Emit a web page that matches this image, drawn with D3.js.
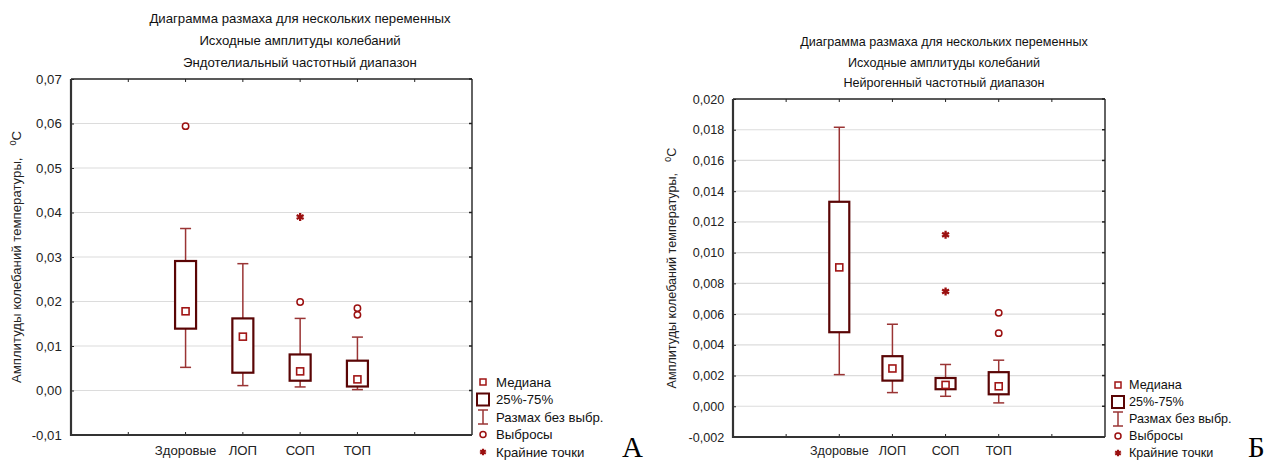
<!DOCTYPE html>
<html>
<head>
<meta charset="utf-8">
<script src="https://cdn.jsdelivr.net/npm/d3@7"></script>
<style>
  body { margin: 0; background: #fff; }
  svg { font-family: "Liberation Sans", Arial, sans-serif; }
</style>
</head>
<body>
<svg id="chart" width="1266" height="465"></svg>
<script>
// categories (same for both panels)
const groups = ['Здоровые', 'ЛОП', 'СОП', 'ТОП']

// panel A - endothelial range: [whiskerLow, q1, median, q3, whiskerHigh]
const statsA = [
  [0.0052, 0.0139, 0.0178, 0.0291, 0.0364],
  [0.0011, 0.0040, 0.0121, 0.0162, 0.0285],
  [0.0008, 0.0022, 0.0043, 0.0081, 0.0162],
  [0.0002, 0.0009, 0.0025, 0.0067, 0.0120]
]
const outliersA = [[0.0594], [], [0.0199], [0.0185, 0.0170]]
const extremesA = [[], [], [0.0390], []]
const ticksA = [-0.01, 0, 0.01, 0.02, 0.03, 0.04, 0.05, 0.06, 0.07]

// panel B - neurogenic range
const statsB = [
  [0.00206, 0.00482, 0.00904, 0.01331, 0.01816],
  [0.00089, 0.00167, 0.00246, 0.00326, 0.00534],
  [0.00065, 0.00111, 0.00139, 0.00184, 0.00272],
  [0.00022, 0.00078, 0.00130, 0.00222, 0.00300]
]
const outliersB = [[], [], [], [0.00608, 0.00476]]
const extremesB = [[], [], [0.01116, 0.00747], []]
const ticksB = [-0.002, 0, 0.002, 0.004, 0.006, 0.008, 0.010, 0.012, 0.014, 0.016, 0.018, 0.020]

const titleA = ['Диаграмма размаха для нескольких переменных', 'Исходные амплитуды колебаний', 'Эндотелиальный частотный диапазон']
const titleB = ['Диаграмма размаха для нескольких переменных', 'Исходные амплитуды колебаний', 'Нейрогенный частотный диапазон']
const legendLabels = ['Медиана', '25%-75%', 'Размах без выбр.', 'Выбросы', 'Крайние точки']

const boxColor = '#5a0505'
const whiskColor = '#9a3434'
const medColor = '#a01515'
const ptColor = '#9b1010'

const svg = d3.select('#chart')

function drawPanel(cfg) {
  const g = svg.append('g')
  const x = d3.scaleLinear().domain([0, 7]).range([cfg.left, cfg.right])
  const y = d3.scaleLinear().domain(cfg.domain).range([cfg.bottom, cfg.top])
  const fmt = v => d3.format('.' + cfg.dec + 'f')(v).replace('.', ',').replace('−', '-')

  // title
  g.selectAll('.title').data(cfg.title).enter().append('text')
    .attr('x', cfg.titleX).attr('y', (d, i) => cfg.titleY + i * cfg.titleStep)
    .attr('text-anchor', 'middle').style('font-size', cfg.fs + 'px').attr('fill', '#111')
    .text(d => d)

  // gridlines
  g.selectAll('.grid').data(cfg.ticks.slice(1, -1)).enter().append('line')
    .attr('x1', cfg.left).attr('x2', cfg.right)
    .attr('y1', d => y(d)).attr('y2', d => y(d))
    .attr('stroke', '#dcdcdc').attr('stroke-width', 1.2)

  // y axis
  const yAx = g.append('g').attr('transform', `translate(${cfg.left},0)`)
    .call(d3.axisLeft(y).tickValues(cfg.ticks).tickFormat(fmt).tickSize(-3).tickPadding(cfg.fs * 0.7))
  yAx.select('.domain').remove()
  yAx.selectAll('text').style('font-size', cfg.fs + 'px').attr('fill', '#222')
  yAx.selectAll('line').attr('stroke', '#222')

  // right side ticks
  g.selectAll('.rtick').data(cfg.ticks).enter().append('line')
    .attr('x1', cfg.right - 3).attr('x2', cfg.right)
    .attr('y1', d => y(d)).attr('y2', d => y(d)).attr('stroke', '#222').attr('stroke-width', 1.5)

  // x axis ticks top & bottom
  const xt = d3.range(1, 7)
  g.selectAll('.btick').data(xt).enter().append('line')
    .attr('x1', d => x(d)).attr('x2', d => x(d))
    .attr('y1', cfg.bottom).attr('y2', cfg.bottom - 3).attr('stroke', '#222')
  g.selectAll('.ttick').data(xt).enter().append('line')
    .attr('x1', d => x(d)).attr('x2', d => x(d))
    .attr('y1', cfg.top).attr('y2', cfg.top + 3).attr('stroke', '#222')

  // frame
  g.append('line').attr('x1', cfg.left).attr('x2', cfg.right).attr('y1', cfg.top).attr('y2', cfg.top)
    .attr('stroke', '#222').attr('stroke-width', 1.4)
  g.append('line').attr('x1', cfg.right).attr('x2', cfg.right).attr('y1', cfg.top).attr('y2', cfg.bottom)
    .attr('stroke', '#222').attr('stroke-width', 1.4)
  g.append('line').attr('x1', cfg.left).attr('x2', cfg.left).attr('y1', cfg.top).attr('y2', cfg.bottom + 1)
    .attr('stroke', '#333').attr('stroke-width', 2.2)
  g.append('line').attr('x1', cfg.left - 1).attr('x2', cfg.right).attr('y1', cfg.bottom).attr('y2', cfg.bottom)
    .attr('stroke', '#333').attr('stroke-width', 2.2)

  // category labels
  g.selectAll('.cat').data(groups).enter().append('text')
    .attr('x', (d, i) => x(i + 2)).attr('y', cfg.catY)
    .attr('text-anchor', 'middle').style('font-size', cfg.fs + 'px').attr('fill', '#222')
    .text(d => d)

  // y label
  const yl = g.append('text')
    .attr('transform', `translate(${cfg.ylX},${(cfg.top + cfg.bottom) / 2}) rotate(-90)`)
    .attr('text-anchor', 'middle').style('font-size', cfg.fs + 'px').attr('fill', '#222')
  yl.append('tspan').text('Амплитуды колебаний температуры,')
  yl.append('tspan').attr('dx', cfg.fs * 0.9).attr('dy', -cfg.fs * 0.4).style('font-size', (cfg.fs * 0.7) + 'px').text('0')
  yl.append('tspan').attr('dy', cfg.fs * 0.4).text('C')

  // boxes
  const hb = cfg.boxW / 2, hc = cfg.capW / 2
  const bx = g.selectAll('.box').data(cfg.stats).enter().append('g')
    .attr('transform', (d, i) => `translate(${x(i + 2)},0)`)
  bx.append('line').attr('x1', 0).attr('x2', 0).attr('y1', d => y(d[3])).attr('y2', d => y(d[4]))
    .attr('stroke', whiskColor).attr('stroke-width', 1.5)
  bx.append('line').attr('x1', 0).attr('x2', 0).attr('y1', d => y(d[1])).attr('y2', d => y(d[0]))
    .attr('stroke', whiskColor).attr('stroke-width', 1.5)
  bx.append('line').attr('x1', -hc).attr('x2', hc).attr('y1', d => y(d[4])).attr('y2', d => y(d[4]))
    .attr('stroke', whiskColor).attr('stroke-width', 1.5)
  bx.append('line').attr('x1', -hc).attr('x2', hc).attr('y1', d => y(d[0])).attr('y2', d => y(d[0]))
    .attr('stroke', whiskColor).attr('stroke-width', 1.5)
  bx.append('rect').attr('x', -hb).attr('width', cfg.boxW)
    .attr('y', d => y(d[3])).attr('height', d => y(d[1]) - y(d[3]))
    .attr('fill', '#fff').attr('stroke', boxColor).attr('stroke-width', 2.2)
  bx.append('rect').attr('x', -3.5).attr('width', 7)
    .attr('y', d => y(d[2]) - 3.5).attr('height', 7)
    .attr('fill', '#fff').attr('stroke', medColor).attr('stroke-width', 1.6)

  // outliers
  cfg.outliers.forEach((arr, i) => {
    g.selectAll(null).data(arr).enter().append('circle')
      .attr('cx', x(i + 2)).attr('cy', d => y(d)).attr('r', 3.2)
      .attr('fill', '#fff').attr('stroke', ptColor).attr('stroke-width', 1.5)
  })
  const star = d3.symbol().type(d3.symbolAsterisk).size(45)
  cfg.extremes.forEach((arr, i) => {
    g.selectAll(null).data(arr).enter().append('path')
      .attr('d', star).attr('transform', d => `translate(${x(i + 2)},${y(d)})`)
      .attr('fill', 'none').attr('stroke', ptColor).attr('stroke-width', 2.3)
  })

  // legend
  const lg = g.append('g')
  legendLabels.forEach((lab, i) => {
    const cy = cfg.legY + i * cfg.legStep
    const mx = cfg.legX
    if (i === 0) {
      lg.append('rect').attr('x', mx - 3).attr('y', cy - 3).attr('width', 6).attr('height', 6)
        .attr('fill', '#fff').attr('stroke', medColor).attr('stroke-width', 1.5)
    } else if (i === 1) {
      lg.append('rect').attr('x', mx - 6).attr('y', cy - 6).attr('width', 12).attr('height', 12)
        .attr('fill', '#fff').attr('stroke', boxColor).attr('stroke-width', 2)
    } else if (i === 2) {
      lg.append('line').attr('x1', mx).attr('x2', mx).attr('y1', cy - 7).attr('y2', cy + 7).attr('stroke', whiskColor).attr('stroke-width', 1.5)
      lg.append('line').attr('x1', mx - 5).attr('x2', mx + 5).attr('y1', cy - 7).attr('y2', cy - 7).attr('stroke', whiskColor).attr('stroke-width', 1.5)
      lg.append('line').attr('x1', mx - 5).attr('x2', mx + 5).attr('y1', cy + 7).attr('y2', cy + 7).attr('stroke', whiskColor).attr('stroke-width', 1.5)
    } else if (i === 3) {
      lg.append('circle').attr('cx', mx).attr('cy', cy).attr('r', 3)
        .attr('fill', '#fff').attr('stroke', ptColor).attr('stroke-width', 1.5)
    } else {
      lg.append('path').attr('d', d3.symbol().type(d3.symbolAsterisk).size(30))
        .attr('transform', `translate(${mx},${cy})`)
        .attr('fill', 'none').attr('stroke', ptColor).attr('stroke-width', 2.2)
    }
    lg.append('text').attr('x', cfg.legTextX).attr('y', cy).attr('dy', '0.35em')
      .style('font-size', cfg.fs + 'px').attr('fill', '#111').text(lab)
  })

  // panel letter
  g.append('text').attr('x', cfg.letterX).attr('y', 457)
    .style('font-family', '"Liberation Serif", "Times New Roman", serif')
    .style('font-size', '29px').attr('fill', '#000').text(cfg.letter)
}

drawPanel({
  left: 71, right: 472, top: 79, bottom: 435, domain: [-0.01, 0.07], ticks: ticksA, dec: 2,
  stats: statsA, outliers: outliersA, extremes: extremesA, title: titleA,
  titleX: 300, titleY: 23, titleStep: 22, fs: 13.2, catY: 455, ylX: 21,
  boxW: 21, capW: 11, legX: 483, legTextX: 496, legY: 382, legStep: 17.5,
  letter: 'А', letterX: 622
})

drawPanel({
  left: 733, right: 1105, top: 99, bottom: 437, domain: [-0.002, 0.020], ticks: ticksB, dec: 3,
  stats: statsB, outliers: outliersB, extremes: extremesB, title: titleB,
  titleX: 944, titleY: 46, titleStep: 20.5, fs: 12.6, catY: 455, ylX: 676,
  boxW: 20, capW: 11, legX: 1118, legTextX: 1129, legY: 385, legStep: 17,
  letter: 'Б', letterX: 1248
})
</script>
</body>
</html>
